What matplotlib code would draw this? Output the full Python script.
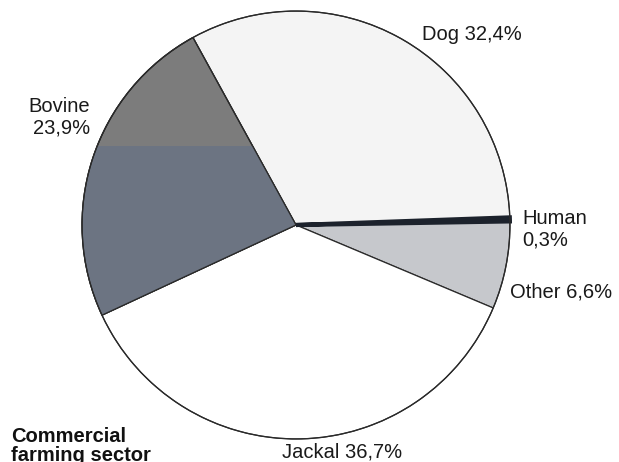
import matplotlib
matplotlib.use("Agg")
import matplotlib.pyplot as plt
from matplotlib.patches import Rectangle, Wedge, Circle

plt.rcParams['font.family'] = ['Liberation Sans', 'DejaVu Sans']

categories = ["Dog", "Human", "Other", "Jackal", "Bovine"]
values = [32.4, 0.3, 6.6, 36.7, 23.9]
labels = ["Dog 32,4%", "Human\n0,3%", "Other 6,6%", "Jackal 36,7%", "Bovine\n23,9%"]
colors = ["#f4f4f4", "#1c222c", "#c6c8cc", "#ffffff", "#7c7c7c"]
title = "Commercial\nfarming sector"

W, H = 619, 462
fig = plt.figure(figsize=(W / 100, H / 100), dpi=100)
cx, cy, r = 296, 225, 215
ax = fig.add_axes([(cx - r) / W, (H - cy - r) / H, 2 * r / W, 2 * r / H])
wedges, _ = ax.pie(values, colors=colors, startangle=118.8, counterclock=False,
                   radius=1, wedgeprops=dict(edgecolor="#2a2a2a", linewidth=0.9))
ax.set_xlim(-1.005, 1.005)
ax.set_ylim(-1.005, 1.005)
ax.axis("off")

# thicker dark Human sliver as in the scan, kept inside the circle
clip = Circle((0, 0), 1.0, transform=ax.transData)
wedges[1].set_edgecolor("#1c222c")
wedges[1].set_linewidth(3.0)
wedges[1].set_zorder(4)
wedges[1].set_clip_path(clip)
ax.add_patch(Circle((0, 0), 1.0, facecolor="none", edgecolor="#2a2a2a",
                    linewidth=0.9, zorder=4.5))

# scanned bluish tint on the lower part of the Bovine slice
band = Rectangle((-1.1, -1.1), 2.2, 1.1 + (cy - 146) / r, facecolor="#6c7482",
                 edgecolor="none", zorder=wedges[4].get_zorder() + 0.1)
ax.add_patch(band)
band.set_clip_path(wedges[4])
w4 = wedges[4]
ax.add_patch(Wedge(w4.center, w4.r, w4.theta1, w4.theta2, facecolor="none",
                   edgecolor="#2a2a2a", linewidth=0.9, zorder=5))

fs = 14.5
tc = "#1a1a1a"
def px(x, y):
    return x / W, 1 - y / H

fig.text(*px(422, 40), labels[0], fontsize=fs, ha="left", va="baseline", color=tc)
fig.text(*px(522, 224), "Human", fontsize=fs, ha="left", va="baseline", color=tc)
fig.text(*px(522, 245), "0,3%", fontsize=fs, ha="left", va="baseline", color=tc)
fig.text(*px(510, 297), labels[2], fontsize=fs, ha="left", va="baseline", color=tc)
fig.text(*px(282, 458), labels[3], fontsize=fs, ha="left", va="baseline", color=tc)
fig.text(*px(90, 112), "Bovine", fontsize=fs, ha="right", va="baseline", color=tc)
fig.text(*px(90, 133), "23,9%", fontsize=fs, ha="right", va="baseline", color=tc)
fig.text(*px(11, 442), "Commercial", fontsize=fs, ha="left", va="baseline",
         fontweight="bold", color="#111111")
fig.text(*px(11, 461), "farming sector", fontsize=fs, ha="left", va="baseline",
         fontweight="bold", color="#111111")

fig.savefig("out.png", dpi=100, facecolor="white")
